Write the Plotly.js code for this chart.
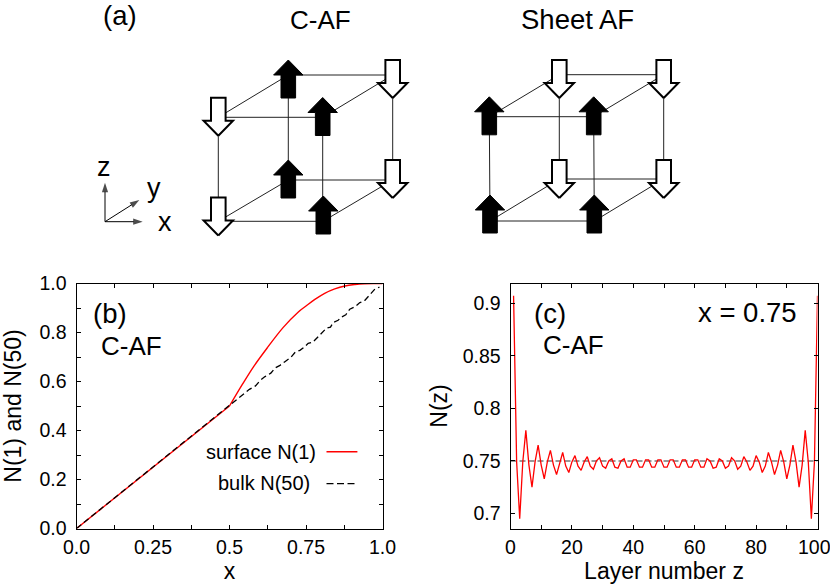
<!DOCTYPE html>
<html>
<head>
<meta charset="utf-8">
<script src="https://cdn.plot.ly/plotly-3.0.1.min.js"></script>
<style>
  html, body { margin: 0; padding: 0; background: #fff; }
  /* sharp corners on the spin arrows only */
  .subplot.x3y3 .js-line { stroke-linejoin: miter !important; stroke-miterlimit: 10 !important; }
</style>
</head>
<body>
<div id="chart" style="width:830px;height:585px;"></div>
<script>
// panel (b): surface and bulk order parameter against x
const surfaceLowX = [0, 0.5];
const surfaceLowY = [0, 0.5];
const surfaceHighX = [0.5, 0.54, 0.58, 0.625, 0.675, 0.725, 0.75, 0.779, 0.811, 0.844, 0.877, 0.91, 0.94, 0.97, 1];
const surfaceHighY = [0.5, 0.584, 0.663, 0.74, 0.82, 0.884, 0.908, 0.935, 0.96, 0.978, 0.99, 0.996, 0.999, 1, 1];
const bulkX = [0, 0.5, 0.525, 0.55, 0.565, 0.585, 0.6, 0.616, 0.635, 0.65, 0.665, 0.681, 0.7, 0.715, 0.73, 0.746, 0.757, 0.772, 0.79, 0.805, 0.817, 0.83, 0.839, 0.855, 0.866, 0.88, 0.893, 0.91, 0.926, 0.94, 0.953, 0.965, 0.975, 0.99];
const bulkY = [0, 0.5, 0.528, 0.552, 0.568, 0.582, 0.604, 0.62, 0.634, 0.656, 0.666, 0.681, 0.698, 0.72, 0.727, 0.742, 0.756, 0.76, 0.783, 0.806, 0.818, 0.822, 0.841, 0.85, 0.863, 0.872, 0.895, 0.905, 0.922, 0.928, 0.947, 0.965, 0.977, 0.985];
const bTickX = [0, 0.125, 0.25, 0.375, 0.5, 0.625, 0.75, 0.875, 1];
const bTickXText = ["0.0", "", "0.25", "", "0.5", "", "0.75", "", "1.0"];
const bTickY = [0, 0.1, 0.2, 0.3, 0.4, 0.5, 0.6, 0.7, 0.8, 0.9, 1];
const bTickYText = ["0.0", "", "0.2", "", "0.4", "", "0.6", "", "0.8", "", "1.0"];

// panel (c): layer profile at x = 0.75, layers 1..100
const layerZ = [1,2,3,4,5,6,7,8,9,10,11,12,13,14,15,16,17,18,19,20,21,22,23,24,25,26,27,28,29,30,31,32,33,34,35,36,37,38,39,40,41,42,43,44,45,46,47,48,49,50,
  51,52,53,54,55,56,57,58,59,60,61,62,63,64,65,66,67,68,69,70,71,72,73,74,75,76,77,78,79,80,81,82,83,84,85,86,87,88,89,90,91,92,93,94,95,96,97,98,99,100];
const layerN = [0.907,0.749,0.695,0.749,0.779,0.746,0.725,0.749,0.765,0.746,
  0.733,0.749,0.760,0.746,0.737,0.749,0.758,0.745,0.739,0.749,
  0.755,0.745,0.741,0.749,0.754,0.745,0.742,0.750,0.753,0.745,
  0.743,0.750,0.752,0.744,0.743,0.750,0.752,0.744,0.744,0.751,
  0.751,0.744,0.744,0.751,0.751,0.744,0.744,0.751,0.751,0.744,
  0.744,0.751,0.751,0.744,0.744,0.751,0.751,0.744,0.744,0.751,
  0.751,0.744,0.744,0.752,0.750,0.743,0.744,0.752,0.750,0.743,
  0.745,0.753,0.750,0.742,0.745,0.754,0.749,0.741,0.745,0.755,
  0.749,0.739,0.745,0.758,0.749,0.737,0.746,0.760,0.749,0.733,
  0.746,0.765,0.749,0.725,0.746,0.779,0.749,0.695,0.749,0.907];
const meanLineX = [0, 100];
const meanLineY = [0.75, 0.75];
const cTickX = [0, 10, 20, 30, 40, 50, 60, 70, 80, 90, 100];
const cTickXText = ["0", "", "20", "", "40", "", "60", "", "80", "", ""];
const cTickY = [0.7, 0.75, 0.8, 0.85, 0.9];
const cTickYText = ["0.7", "0.75", "0.8", "0.85", "0.9"];

// panel (a): spin cubes, read in figure pixels
const cafLinesX = [288.3, 392.7, null, 218.3, 322.7, null, 288.3, 392.7, null, 218.3, 323, null, 218.3, 288.3, null, 322.7, 392.7, null, 218.3, 288.3, null, 323, 392.7, null, 218.3, 218.3, null, 288.3, 288.3, null, 322.7, 322.7, null, 392.7, 392.7];
const cafLinesY = [75, 75, null, 117.3, 117.3, null, 180, 180, null, 221.3, 221.3, null, 117.3, 75, null, 117.3, 75, null, 221.3, 180, null, 221.3, 180, null, 117.3, 221.3, null, 75, 180, null, 117.3, 221.3, null, 75, 180];
const cafUpX = [288.3, 322.7, 288.3, 323.3];
const cafUpTop = [60, 97.5, 160, 196];
const cafDownX = [392.7, 218.3, 392.7, 218.3];
const cafDownTop = [60, 97.7, 160, 197.5];
const sheetLinesX = [559.3, 663.7, null, 489.3, 593.7, null, 559.3, 663.7, null, 490, 594.3, null, 489.3, 559.3, null, 593.7, 663.7, null, 490, 559.3, null, 594.3, 663.7, null, 489.3, 490, null, 559.3, 559.3, null, 593.7, 594.3, null, 663.7, 663.7];
const sheetLinesY = [74.7, 74.7, null, 116.7, 116.7, null, 179, 179, null, 221, 221, null, 116.7, 74.7, null, 116.7, 74.7, null, 221, 179, null, 221, 179, null, 116.7, 221, null, 74.7, 179, null, 116.7, 221, null, 74.7, 179];
const sheetUpX = [489.3, 593.7, 490, 594.3];
const sheetUpTop = [96.8, 96.8, 195, 195];
const sheetDownX = [559.3, 663.7, 559.3, 663.7];
const sheetDownTop = [60, 60, 160, 160];
// arrow outline: offset from centre, offset from top (up arrow)
const arrowDx = [0, 14.7, 7.3, 7.3, -7.3, -7.3, -14.7, 0];
const arrowDy = [0, 15, 15, 38, 38, 15, 15, 0];

const axisOriginX = 105;
const axisOriginY = 221.7;
const axisTipX = [105, 142.7, 139.3];
const axisTipY = [182.7, 221.7, 200];

const textFont = "Liberation Sans, Arial, Helvetica, sans-serif";

function arrowPath(cx, top, up) {
  const xs = [], ys = [];
  arrowDx.forEach((dx, i) => {
    xs.push(cx + dx);
    ys.push(up ? top + arrowDy[i] : top + 38 - arrowDy[i]);
  });
  return { xs, ys };
}

function arrowTraces(xList, topList, up) {
  return xList.map((cx, i) => {
    const p = arrowPath(cx, topList[i], up);
    return {
      x: p.xs, y: p.ys, xaxis: "x3", yaxis: "y3",
      type: "scatter", mode: "lines", fill: "toself",
      fillcolor: up ? "#000" : "#fff",
      line: { color: "#000", width: up ? 1 : 2 },
      hoverinfo: "skip", showlegend: false,
    };
  });
}

function lineTrace(xs, ys) {
  return {
    x: xs, y: ys, xaxis: "x3", yaxis: "y3",
    type: "scatter", mode: "lines",
    line: { color: "#222", width: 1 },
    hoverinfo: "skip", showlegend: false,
  };
}

const axisArrows = axisTipX.map((tx, i) => ({
  x: [axisOriginX, tx], y: [axisOriginY, axisTipY[i]], xaxis: "x3", yaxis: "y3",
  type: "scatter", mode: "lines+markers",
  line: { color: "#000", width: 1 },
  marker: { symbol: "arrow", angleref: "previous", size: [0, 10], color: "#000", line: { width: 0 } },
  hoverinfo: "skip", showlegend: false,
}));

const traces = [
  lineTrace(cafLinesX, cafLinesY),
  lineTrace(sheetLinesX, sheetLinesY),
  ...arrowTraces(cafUpX, cafUpTop, true),
  ...arrowTraces(cafDownX, cafDownTop, false),
  ...arrowTraces(sheetUpX, sheetUpTop, true),
  ...arrowTraces(sheetDownX, sheetDownTop, false),
  ...axisArrows,
  { x: surfaceLowX, y: surfaceLowY, type: "scatter", mode: "lines", line: { color: "#ff0000", width: 1.4 }, xaxis: "x", yaxis: "y", showlegend: false },
  { x: surfaceHighX, y: surfaceHighY, type: "scatter", mode: "lines", line: { color: "#ff0000", width: 1.4, shape: "spline", smoothing: 1 }, xaxis: "x", yaxis: "y", showlegend: false },
  { x: bulkX, y: bulkY, type: "scatter", mode: "lines", line: { color: "#000", width: 1.3, dash: "6px,3.5px" }, xaxis: "x", yaxis: "y", showlegend: false },
  { x: meanLineX, y: meanLineY, type: "scatter", mode: "lines", line: { color: "#999", width: 2, dash: "6px,3px" }, xaxis: "x2", yaxis: "y2", showlegend: false },
  { x: layerZ, y: layerN, type: "scatter", mode: "lines", line: { color: "#ff0000", width: 1.3 }, xaxis: "x2", yaxis: "y2", showlegend: false },
];

const frameAxis = {
  showgrid: false, zeroline: false, showline: true, mirror: "ticks",
  linecolor: "#000", linewidth: 1,
  ticks: "inside", ticklen: 4, tickwidth: 1, tickcolor: "#000",
  tickmode: "array",
  tickfont: { family: textFont, size: 19.5, color: "#000" },
};

const titleFont = { family: textFont, size: 23, color: "#000" };

function label(text, x, y, size, anchor) {
  return {
    text, x, y, xref: "x3", yref: "y3", showarrow: false,
    xanchor: anchor || "center", yanchor: "middle",
    font: { family: textFont, size, color: "#000" },
  };
}

const layout = {
  width: 830, height: 585,
  margin: { l: 0, r: 0, t: 0, b: 0 },
  paper_bgcolor: "#fff", plot_bgcolor: "rgba(0,0,0,0)",
  showlegend: false,
  xaxis: { ...frameAxis, ticklabelstandoff: 1, domain: [76.5 / 830, 382.5 / 830], range: [0, 1], tickvals: bTickX, ticktext: bTickXText,
    title: { text: "x", font: titleFont, standoff: 5 } },
  yaxis: { ...frameAxis, ticklabelstandoff: 5, domain: [56.5 / 585, 301.5 / 585], range: [0, 1], tickvals: bTickY, ticktext: bTickYText,
    title: { text: "N(1) and N(50)", font: titleFont, standoff: 13 } },
  xaxis2: { ...frameAxis, ticklabelstandoff: 1, anchor: "y2", domain: [510.5 / 830, 817.5 / 830], range: [0, 100], tickvals: cTickX, ticktext: cTickXText,
    title: { text: "Layer number z", font: titleFont, standoff: 5 } },
  yaxis2: { ...frameAxis, ticklabelstandoff: 5, anchor: "x2", domain: [56.5 / 585, 301.5 / 585], range: [0.6857, 0.9187], tickvals: cTickY, ticktext: cTickYText,
    title: { text: "N(z)", font: titleFont, standoff: 8 } },
  // whole-width overlay for the cube drawing and the free labels
  xaxis3: { domain: [0, 1], range: [0, 830], visible: false, fixedrange: true, anchor: "y3" },
  yaxis3: { domain: [0, 1], range: [585, 0], visible: false, fixedrange: true, anchor: "x3" },
  shapes: [
    { type: "line", xref: "x", yref: "y", x0: 0.817, x1: 0.918, y0: 0.313, y1: 0.313, line: { color: "#ff0000", width: 1.4 } },
    { type: "line", xref: "x", yref: "y", x0: 0.817, x1: 0.918, y0: 0.183, y1: 0.183, line: { color: "#000", width: 1.3, dash: "7px,3.5px" } },
  ],
  annotations: [
    label("(a)", 120, 15, 27.5),
    label("C-AF", 320, 19.5, 26),
    label("Sheet AF", 577, 19, 27.5),
    label("z", 104, 167, 27),
    label("y", 154, 188, 27),
    label("x", 165, 222, 27),
    label("(b)", 110, 313, 27.5),
    label("C-AF", 131.5, 346, 26),
    label("(c)", 550, 313, 27.5),
    label("C-AF", 573, 345, 26),
    label("x = 0.75", 747.5, 312.5, 27.5),
    label("surface N(1)", 318, 451.5, 20, "right"),
    label("bulk N(50)", 312, 482.5, 20, "right"),
    // the last tick label sits off-centre to stay inside the figure
    label("100", 814.5, 546.5, 19.5),
  ],
};

Plotly.newPlot("chart", traces, layout, { displayModeBar: false, staticPlot: true });
</script>
</body>
</html>
